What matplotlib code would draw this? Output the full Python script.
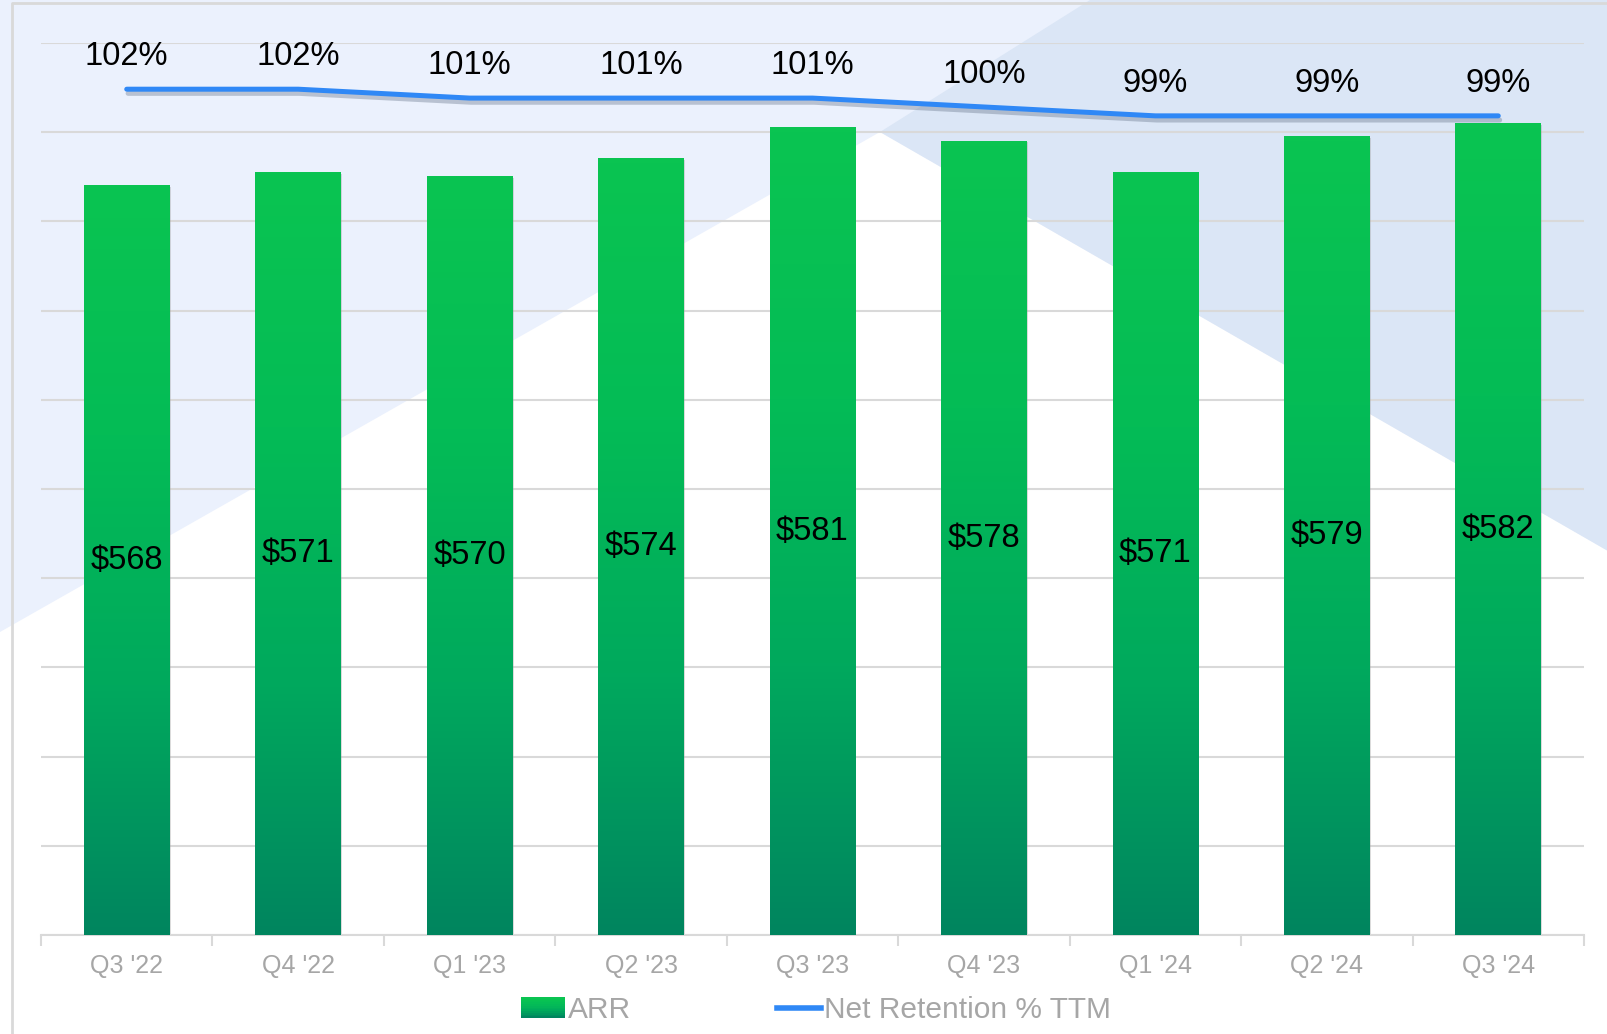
import numpy as np
import matplotlib
matplotlib.use("Agg")
import matplotlib.pyplot as plt
from matplotlib.colors import LinearSegmentedColormap
from matplotlib.patches import Polygon, Rectangle
from matplotlib.lines import Line2D
from matplotlib.legend_handler import HandlerBase
import matplotlib.patheffects as pe

plt.rcParams['font.family'] = ['Liberation Sans', 'DejaVu Sans']

# ---------------- data ----------------
quarters = ["Q3 '22", "Q4 '22", "Q1 '23", "Q2 '23", "Q3 '23", "Q4 '23", "Q1 '24", "Q2 '24", "Q3 '24"]
arr_values = [568, 571, 570, 574, 581, 578, 571, 579, 582]
arr_labels = ["$568", "$571", "$570", "$574", "$581", "$578", "$571", "$579", "$582"]
net_retention = [102, 102, 101, 101, 101, 100, 99, 99, 99]
net_retention_labels = ["102%", "102%", "101%", "101%", "101%", "100%", "99%", "99%", "99%"]

W, H = 1608, 1034
fig = plt.figure(figsize=(W / 100, H / 100), dpi=100)
fig.patch.set_facecolor('white')

def fx(x):
    return x / W

def fy(y):
    return 1 - y / H

# background shapes
light = Polygon([(fx(0), fy(0)), (fx(W), fy(0)), (fx(W), fy(551)), (fx(880), fy(132)), (fx(0), fy(632))],
                closed=True, transform=fig.transFigure, facecolor='#ebf1fd', edgecolor='none', zorder=0)
dark = Polygon([(fx(1090), fy(0)), (fx(W), fy(0)), (fx(W), fy(551)), (fx(880), fy(132))],
               closed=True, transform=fig.transFigure, facecolor='#dbe6f6', edgecolor='none', zorder=0)
fig.patches.extend([light, dark])
# frame
fig.add_artist(Line2D([fx(12), fx(12), fx(W)], [fy(H), fy(3), fy(3)], transform=fig.transFigure,
                      color='#d9d9d9', lw=2, zorder=1))

ax = fig.add_axes([fx(41), fy(935), fx(1584) - fx(41), fy(43) - fy(935)])
ax.set_facecolor('none')
ax.set_zorder(2)

n = len(quarters)
x = np.arange(n)
bw = 0.5

cmap = LinearSegmentedColormap.from_list('g', ['#00855f', '#00a95d', '#04bc56', '#0ac451'])
grad = np.linspace(0, 1, 256).reshape(-1, 1)

bars = ax.bar(x, [v - 400 for v in arr_values], bottom=400, width=bw, color='none', edgecolor='none', zorder=3)
for b, v in zip(bars, arr_values):
    x0 = b.get_x()
    ax.add_patch(Rectangle((x0 + 0.006, 400), bw, v - 400 - 0.3, facecolor='#9a9a9a', alpha=0.35,
                           edgecolor='none', zorder=2.5))
    ax.imshow(grad, cmap=cmap, origin='lower', aspect='auto',
              extent=(x0, x0 + bw, 400, v), zorder=3, interpolation='bilinear')

for xi, v, lab in zip(x, arr_values, arr_labels):
    ax.text(xi, (400 + v) / 2, lab, ha='center', va='center', fontsize=23.5, color='black', zorder=5)

ax.set_yticks(np.arange(400, 601, 20))
ax.yaxis.grid(True, color='#d9d9d9', lw=1.5)
ax.set_axisbelow(True)
for s in ['top', 'right', 'left']:
    ax.spines[s].set_visible(False)
ax.spines['bottom'].set_color('#d9d9d9')
ax.spines['bottom'].set_linewidth(1.5)

ax.set_xticks(x)
ax.set_xticklabels(quarters, fontsize=18, color='#a6a6a6')
ax.tick_params(axis='x', which='major', length=0, pad=14)
ax.set_xticks(np.arange(n + 1) - 0.5, minor=True)
ax.tick_params(axis='x', which='minor', length=8, color='#d9d9d9', width=1.5)

# secondary axis
ax2 = ax.twinx()
ax2.set_ylim(6.8, 107.2)
ax2.axis('off')
ax.set_xlim(-0.5, n - 0.5)
ax.set_ylim(400, 600)
ax.tick_params(axis='y', which='both', left=False, right=False, labelleft=False, labelright=False)

line, = ax2.plot(x, net_retention, color='#2f88f6', lw=3.6, solid_capstyle='round', zorder=6,
                 path_effects=[pe.SimpleLineShadow(offset=(1, -3), shadow_color='#5a6a80', alpha=0.35),
                               pe.Normal()])
for xi, v, lab in zip(x, net_retention, net_retention_labels):
    ax2.annotate(lab, (xi, v), xytext=(0, 23.5), textcoords='offset points', ha='center', va='center',
                 fontsize=23.5, color='black')


class GradHandler(HandlerBase):
    def create_artists(self, legend, orig_handle, xdescent, ydescent, width, height, fontsize, trans):
        arts = []
        k = 12
        for i in range(k):
            r = Rectangle((-xdescent, -ydescent + height * i / k), width, height / k * 1.05,
                          facecolor=cmap(i / (k - 1)), edgecolor='none', transform=trans)
            arts.append(r)
        return arts


h_bar = Rectangle((0, 0), 1, 1)
h_line = Line2D([0], [0], color='#2f88f6', lw=4)
leg = fig.legend([h_bar, h_line], ['ARR', 'Net Retention % TTM'],
                 handler_map={Rectangle: GradHandler()},
                 loc='center', bbox_to_anchor=(fx(816), fy(1010)), ncol=2, frameon=False,
                 fontsize=21.5, handlelength=1.45, handleheight=0.7, handletextpad=0.1, columnspacing=4.9)
for t in leg.get_texts():
    t.set_color('#a6a6a6')

fig.savefig('out.png', dpi=100, facecolor=fig.get_facecolor())
